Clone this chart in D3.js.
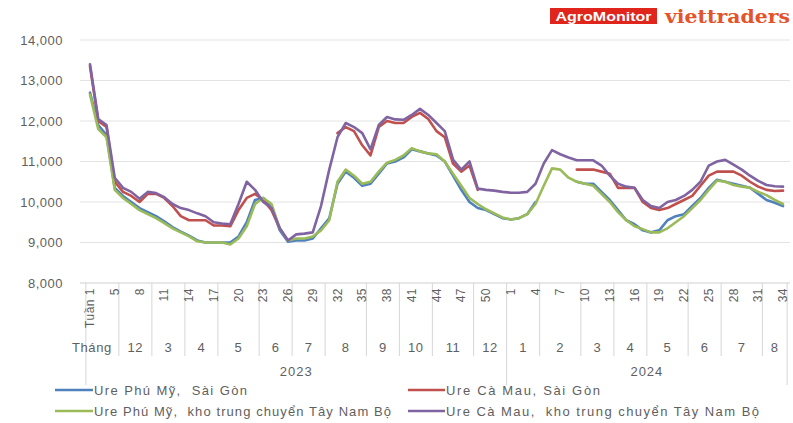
<!DOCTYPE html>
<html><head><meta charset="utf-8">
<script src="https://cdn.jsdelivr.net/npm/d3@7/dist/d3.min.js"></script>
<style>
body{margin:0;background:#fff}
svg{display:block;font-family:"Liberation Sans",Arial,sans-serif}
</style>
</head><body>
<svg id="c" width="793" height="423"></svg>
<script>
// ---- data ----
const seriesNames = [
  "Ure Phú Mỹ,  Sài Gòn",
  "Ure Cà Mau, Sài Gòn",
  "Ure Phú Mỹ,  kho trung chuyển Tây Nam Bộ",
  "Ure Cà Mau,  kho trung chuyển Tây Nam Bộ"
];
const seriesColors = ["#4f81bd", "#c0504d", "#9bbb59", "#8064a2"];

const phuMySaiGon = [12700,11900,11650,10350,10150,10000,9850,9750,9650,9520,9380,9270,9170,9050,9000,9000,9000,9000,9150,9500,
  10050,10100,9900,9300,9020,9050,9050,9100,9350,9600,10450,10750,10600,10400,10450,10700,10950,11000,11100,11300,
  11250,11200,11150,11000,10650,10300,10000,9850,9800,9700,9600,9570,9600,9700,10000,null,null,null,null,10500,
  10450,10450,10250,10050,9800,9550,9450,9300,9250,9300,9550,9650,9700,9900,10100,10350,10550,10500,10450,10400,
  10350,10200,10050,9980,9900];
const caMauSaiGon = [13350,12000,11850,10500,10250,10150,10000,10200,10200,10100,9900,9650,9550,9550,9550,9420,9420,9400,9800,10100,
  10200,10050,9800,9350,null,null,null,null,null,null,11700,11850,11750,11400,11150,11850,12000,11950,11950,12100,
  12200,12050,11750,11600,10950,10750,10900,10300,null,null,null,null,null,null,null,null,null,null,null,10800,
  10800,10800,10750,10700,10350,10350,10350,10000,9850,9800,9850,9950,10050,10150,10400,10650,10750,10750,10750,10650,
  10500,10380,10300,10270,10280];
const phuMyTayNamBo = [12650,11800,11600,10300,10100,9950,9800,9700,9600,9480,9350,9250,9150,9030,9000,9000,9000,8950,9100,9400,
  9950,10100,9950,9350,9050,9100,9100,9150,9300,9550,10500,10800,10650,10450,10500,10750,10970,11040,11150,11330,
  11250,11200,11180,11000,10700,10400,10100,9950,9820,9720,9620,9570,9600,9700,9950,10400,10830,10800,10600,10500,
  10450,10400,10200,10000,9750,9550,9400,9330,9250,9250,9350,9500,9650,9850,10050,10300,10530,10500,10420,10380,
  10350,10250,10170,10050,9950];
const caMauTayNamBo = [13400,12050,11900,10600,10350,10250,10080,10250,10220,10120,9950,9850,9800,9720,9650,9500,9470,9450,9950,10500,
  10300,10000,9850,9350,9050,9200,9220,9250,9900,10800,11600,11950,11850,11700,11300,11900,12100,12040,12030,12150,
  12300,12150,11950,11750,11050,10800,11000,10330,10300,10280,10250,10230,10230,10250,10450,10950,11280,11180,11100,11030,
  11030,11030,10900,10650,10450,10380,10350,10050,9900,9850,10000,10050,10150,10300,10500,10900,11000,11040,10920,10800,
  10650,10520,10420,10390,10380];

const weekTickLabels = ["Tuần 1","5","8","11","14","17","20","23","26","29","32","35","38","41","44","47","50",
  "1","4","7","10","13","16","19","22","25","28","31","34"];
const monthLabels = ["","12","3","4","5","6","7","8","9","10","11","12","1","2","3","4","5","6","7","8"];
const monthWeekCounts = [4,4,4,4,5,4,4,5,4,4,5,4, 4,5,4,4,5,4,5,3];
const yearLabels = ["2023","2024"];
const yearWeekCounts = [51,34];
const yTicks = [8000,9000,10000,11000,12000,13000,14000];

// ---- chart ----
const svg = d3.select("#c");
const allSeries = [phuMySaiGon, caMauSaiGon, phuMyTayNamBo, caMauTayNamBo];
const n = phuMySaiGon.length;
const x = d3.scaleLinear().domain([0, n - 1]).range([90, 783]);
const y = d3.scaleLinear().domain([8000, 14000]).range([283, 40]);
const grey = "#5f5f5f";

// gridlines
svg.append("g").selectAll("line").data(yTicks).join("line")
  .attr("x1", 80).attr("x2", 790)
  .attr("y1", d => y(d)).attr("y2", d => y(d))
  .attr("stroke", d => d === 8000 ? "#cfcfcf" : "#e3e3e3").attr("stroke-width", 1);

// y labels
svg.append("g").selectAll("text").data(yTicks).join("text")
  .attr("x", 63).attr("y", d => y(d)).attr("dy", "0.35em")
  .attr("text-anchor", "end").attr("font-size", 13).attr("letter-spacing", 0.5).attr("fill", grey)
  .text(d => d3.format(",")(d));

// category separators
function bounds(counts) {
  const b = [0]; counts.forEach(c => b.push(b[b.length - 1] + c)); return b;
}
const mB = bounds(monthWeekCounts);
const yB = bounds(yearWeekCounts);
svg.append("g").selectAll("line").data(mB).join("line")
  .attr("x1", d => x(d - 0.5)).attr("x2", d => x(d - 0.5))
  .attr("y1", y(8000)).attr("y2", d => yB.includes(d) ? 385 : 356)
  .attr("stroke", "#d6d6d6").attr("stroke-width", 1);

// week labels (rotated)
svg.append("g").selectAll("text").data(weekTickLabels).join("text")
  .attr("transform", (d, i) => `translate(${x(i * 3)},288) rotate(-90)`)
  .attr("text-anchor", "end").attr("dy", "0.35em")
  .attr("font-size", 12).attr("letter-spacing", 0.5).attr("fill", grey).text(d => d);

// month labels
svg.append("text").attr("x", 72).attr("y", 352).attr("font-size", 13).attr("letter-spacing", 0.6)
  .attr("fill", grey).text("Tháng");
svg.append("g").selectAll("text").data(monthLabels).join("text")
  .attr("x", (d, i) => x((mB[i] + mB[i + 1] - 1) / 2)).attr("y", 352)
  .attr("text-anchor", "middle").attr("font-size", 13).attr("letter-spacing", 0.6).attr("fill", grey).text(d => d);

// year labels
svg.append("g").selectAll("text").data(yearLabels).join("text")
  .attr("x", (d, i) => x((yB[i] + yB[i + 1] - 1) / 2)).attr("y", 376)
  .attr("text-anchor", "middle").attr("font-size", 13).attr("letter-spacing", 1).attr("fill", grey).text(d => d);

// lines
const line = d3.line().defined(d => d != null).x((d, i) => x(i)).y(d => y(d));
svg.append("g").selectAll("path").data(allSeries).join("path")
  .attr("d", d => line(d))
  .attr("fill", "none").attr("stroke", (d, i) => seriesColors[i])
  .attr("stroke-width", 2.6).attr("stroke-linejoin", "round").attr("stroke-linecap", "round");

// legend
const legPos = [[55, 390], [408, 390], [55, 411], [408, 411]];
const legLineLen = [38, 37, 38, 37];
const legTextLen = [153, 154, 297, 313];
const leg = svg.append("g").selectAll("g").data(seriesNames).join("g")
  .attr("transform", (d, i) => `translate(${legPos[i][0]},${legPos[i][1]})`);
leg.append("line").attr("x1", 0).attr("x2", (d, i) => legLineLen[i]).attr("y1", 0).attr("y2", 0)
  .attr("stroke", (d, i) => seriesColors[i]).attr("stroke-width", 2.6);
leg.append("text").attr("x", (d, i) => legLineLen[i] + 1).attr("dy", "0.35em")
  .attr("font-size", 13).attr("fill", grey).attr("xml:space", "preserve")
  .attr("textLength", (d, i) => legTextLen[i]).attr("lengthAdjust", "spacing").text(d => d);

// logo
svg.append("rect").attr("x", 550).attr("y", 8).attr("width", 107).attr("height", 16).attr("fill", "#e0261c");
svg.append("text").attr("x", 603.5).attr("y", 20.5).attr("text-anchor", "middle")
  .attr("font-size", 12).attr("font-weight", "bold").attr("fill", "#fff")
  .attr("textLength", 96).attr("lengthAdjust", "spacingAndGlyphs").text("AgroMonitor");
svg.append("text").attr("x", 665).attr("y", 23)
  .attr("font-family", "'DejaVu Serif',serif").attr("font-size", 18).attr("font-weight", "bold").attr("fill", "#e4532a")
  .attr("textLength", 125).attr("lengthAdjust", "spacingAndGlyphs").text("viettraders");
</script>
</body></html>
